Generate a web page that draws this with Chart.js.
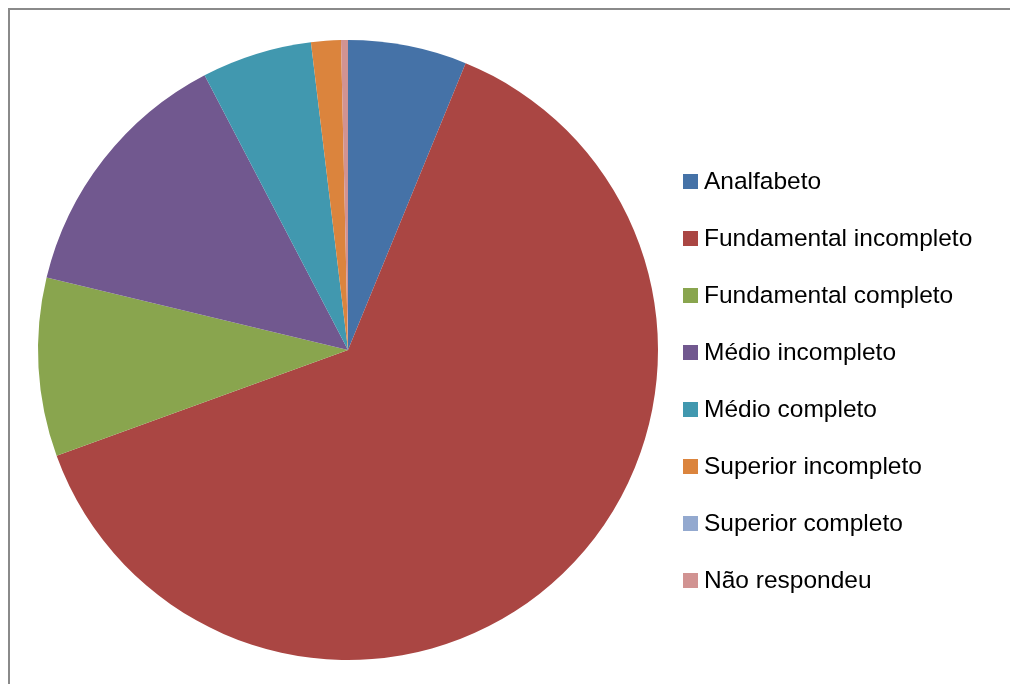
<!DOCTYPE html>
<html>
<head>
<meta charset="utf-8">
<script src="https://cdn.jsdelivr.net/npm/chart.js@4.4.1/dist/chart.umd.min.js"></script>
<style>
  html, body { margin: 0; padding: 0; background: #fff; }
  #wrap { position: relative; width: 1010px; height: 684px; overflow: hidden; }
  #frame { position: absolute; left: 8px; top: 8px; width: 1100px; height: 800px;
           border: 2px solid #8a8a8a; box-sizing: border-box; }
  #c { position: absolute; left: 0; top: 0; }
  #legend { position: absolute; left: 683px; top: 0; margin: 0; padding: 0; list-style: none;
            font-family: "Liberation Sans", Arial, sans-serif; font-size: 24.5px; color: #000; }
  #legend li { position: absolute; left: 0; white-space: nowrap; display: flex; align-items: center; height: 30px; }
  #legend .sw { width: 15px; height: 15px; margin-right: 6px; flex: none; }
</style>
</head>
<body>
<div id="wrap">
  <div id="frame"></div>
  <canvas id="c" width="1010" height="684"></canvas>
  <ul id="legend"></ul>
</div>
<script>
// Escolaridade dos entrevistados (%)
const categories = [
  "Analfabeto",
  "Fundamental incompleto",
  "Fundamental completo",
  "Médio incompleto",
  "Médio completo",
  "Superior incompleto",
  "Superior completo",
  "Não respondeu"
];
const shares = [6.2, 63.3, 9.3, 13.6, 5.75, 1.55, 0, 0.36];
const sliceColors = ["#4572A7", "#AA4643", "#89A54E", "#71588F", "#4198AF", "#DB843D", "#93A9CF", "#D19392"];

const chart = new Chart(document.getElementById("c"), {
  type: "pie",
  data: {
    labels: categories,
    datasets: [{
      data: shares,
      backgroundColor: sliceColors,
      borderWidth: 0,
      hoverOffset: 0
    }]
  },
  options: {
    responsive: false,
    animation: false,
    events: [],
    layout: { padding: { left: 38, top: 40, right: 352, bottom: 24 } },
    plugins: {
      legend: { display: false },
      tooltip: { enabled: false }
    }
  }
});

// Legend list built from the same categories and colours
const legend = document.getElementById("legend");
categories.forEach((name, i) => {
  const li = document.createElement("li");
  li.style.top = (166 + i * 57) + "px";
  const sw = document.createElement("span");
  sw.className = "sw";
  sw.style.background = sliceColors[i];
  li.appendChild(sw);
  li.appendChild(document.createTextNode(name));
  legend.appendChild(li);
});
</script>
</body>
</html>
